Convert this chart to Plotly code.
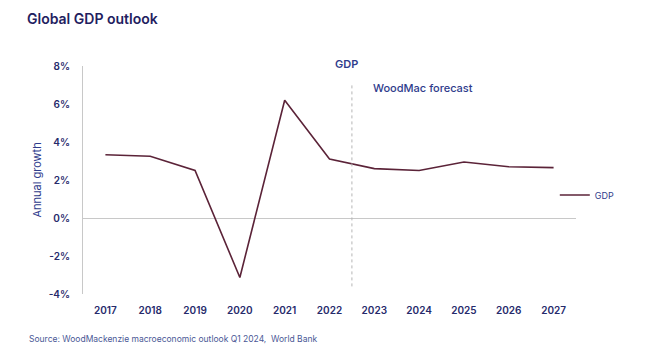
import plotly.graph_objects as go

years = ["2017", "2018", "2019", "2020", "2021", "2022", "2023", "2024", "2025", "2026", "2027"]
gdp_growth = [3.33, 3.25, 2.5, -3.13, 6.2, 3.1, 2.6, 2.5, 2.95, 2.7, 2.65]
y_ticks = [-4, -2, 0, 2, 4, 6, 8]
y_tick_labels = ["-4%", "-2%", "0%", "2%", "4%", "6%", "8%"]

navy = "#262a6b"
font_family = "Inter, Lato, 'Noto Sans', sans-serif"

# page body has an 8px default margin; positions below compensate for it
W, H = 650, 361
ML, MT, MR, MB = 75, 58, 82, 75
plot_h = H - MT - MB

fig = go.Figure()
fig.add_trace(go.Scatter(
    x=years, y=gdp_growth, mode="lines", name="GDP",
    line=dict(color="#5b2338", width=1.6),
))

# forecast divider between 2022 and 2023
fig.add_shape(type="line", xref="x", yref="y", x0=5.5, x1=5.5, y0=-3.6, y1=7.0,
              line=dict(color="#b5b5b5", width=1, dash="dot"))

fig.add_annotation(x=5.39, y=1 + 2 / plot_h, xref="x", yref="paper", text="GDP", showarrow=False,
                   font=dict(size=11, color="#2f3c8c", family=font_family, weight=600),
                   xanchor="center", yanchor="middle")
fig.add_annotation(x=5.92, y=6.84, xref="x", yref="y", text="WoodMac forecast", showarrow=False,
                   font=dict(size=11, color="#2f3c8c", family=font_family, weight=500),
                   xanchor="left", yanchor="middle")

fig.update_layout(
    width=W, height=H,
    margin=dict(l=ML, r=MR, t=MT, b=MB),
    paper_bgcolor="white", plot_bgcolor="white",
    font=dict(family=font_family, color=navy),
    title=dict(text="Global GDP outlook", x=19/W, xanchor="left", y=1-11/H, yanchor="middle",
               font=dict(size=14, color="#1f2160", family=font_family, weight=600)),
    showlegend=True,
    legend=dict(x=0.957, y=0.434, xanchor="left", yanchor="middle",
                font=dict(size=9, color="#2f3c8c", family=font_family),
                bgcolor="rgba(0,0,0,0)", itemwidth=30),
    xaxis=dict(type="category", range=[-0.5, 10.5], showgrid=False, showline=False,
               ticks="", tickfont=dict(size=10, color=navy, family=font_family, weight=600),
               ticklabelstandoff=9, zeroline=False),
    yaxis=dict(range=[-4, 8], tickvals=y_ticks, ticktext=y_tick_labels, showgrid=False,
               showline=True, linecolor="#c8c8c8", linewidth=1,
               zeroline=True, zerolinecolor="#c8c8c8", zerolinewidth=1,
               ticks="", ticklabelstandoff=10,
               tickfont=dict(size=10, color=navy, family=font_family, weight=600),
               title=dict(text="Annual growth", standoff=4,
                          font=dict(size=11, color="#2f3c8c", family=font_family))),
)

fig.add_annotation(x=-(ML - 19) / (W - ML - MR), y=-(331 - (H - MB)) / plot_h,
                   xref="paper", yref="paper",
                   text="Source: WoodMackenzie macroeconomic outlook Q1 2024,  World Bank",
                   showarrow=False, xanchor="left", yanchor="middle",
                   font=dict(size=8.5, color="#4a5896", family=font_family))

fig.write_html("out.html")
